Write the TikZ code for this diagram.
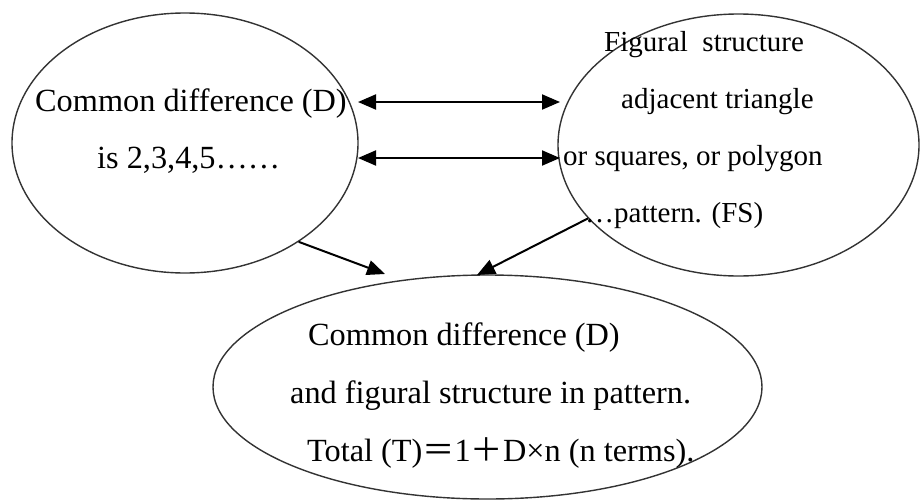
\documentclass[tikz,border=0pt]{standalone}
\usepackage{fontspec}
\setmainfont{Liberation Serif}
\newfontfamily\cjk{Noto Sans CJK SC}
\usetikzlibrary{shapes.geometric,arrows.meta}
\tikzset{
  ell/.style={ellipse, draw=black!80, line width=1.4pt, inner sep=0pt},
  txt/.style={anchor=base west, inner sep=0pt, font=\fontsize{32.3}{32.3}\selectfont},
  txtr/.style={txt, font=\fontsize{29}{29}\selectfont},
  arr/.style={line width=2pt, -{Triangle[length=18pt,width=15pt]}},
  darr/.style={line width=2pt, {Triangle[length=18pt,width=15pt]}-{Triangle[length=18pt,width=15pt]}}
}
\begin{document}
\begin{tikzpicture}[x=1pt,y=-1pt]
\useasboundingbox (0,0) rectangle (921,501);
\node[ell, minimum width=346pt, minimum height=260pt] (L) at (185,143) {};
\node[ell, minimum width=361pt, minimum height=262pt] (R) at (738.5,145) {};
\node[ell, minimum width=549pt, minimum height=224pt] (B) at (487.5,387) {};

\node[txt] (l1) at (35,111) {Common difference (D)};
\node[txt] (l2) at (97,168) {is 2,3,4,5……};

\node[txtr] (r1) at (604,51) {Figural\ \ structure};
\node[txtr] (r2) at (621,108) {adjacent triangle};
\node[txtr] (r3) at (563,165) {or squares, or polygon};
\node[txtr] (r4) at (585,222) {…pattern. (FS)};

\node[txt] (b1) at (308,345) {Common difference (D)};
\node[txt] (b2) at (290,403) {and figural structure in pattern.};
\node[txt] (b3) at (307,461) {Total (T){\cjk ＝}1{\cjk ＋}D×n (n terms).};

\coordinate (a1) at (358,102);
\coordinate (a2) at (560,102);
\coordinate (c1) at (358,158);
\coordinate (c2) at (560,158);
\coordinate (t1) at (385,274);
\coordinate (t2) at (477,275);

\draw[darr] (a1) -- (a2);
\draw[darr] (c1) -- (c2);
\draw[arr] (L.-41) -- (t1);
\draw[arr] (R.206) -- (t2);
\end{tikzpicture}
\end{document}
